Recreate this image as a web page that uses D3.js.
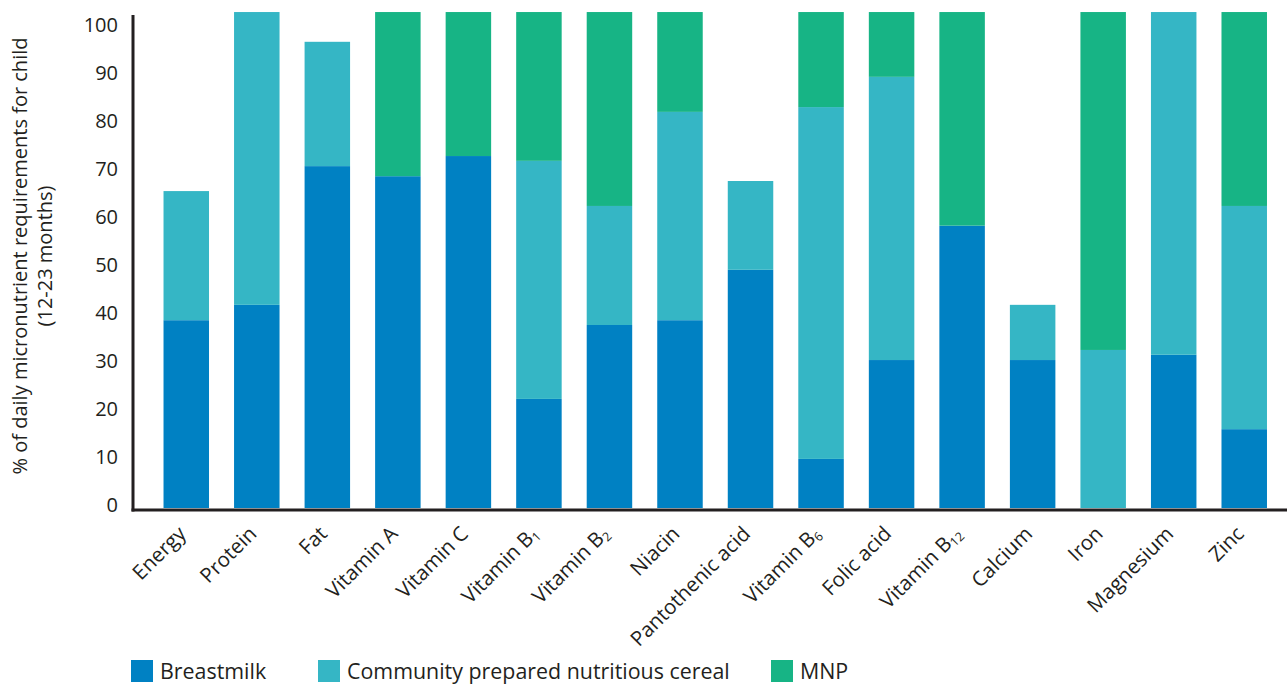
<!DOCTYPE html>
<html>
<head>
<meta charset="utf-8">
<script src="https://cdn.jsdelivr.net/npm/d3@7"></script>
<style>
  html, body { margin: 0; padding: 0; background: #fff; }
  svg { display: block; font-family: "Open Sans", sans-serif; }
</style>
</head>
<body>
<svg id="chart" width="1287" height="684"></svg>
<script>
// ---- data ----
const categories = ["Energy", "Protein", "Fat", "Vitamin A", "Vitamin C", "Vitamin B1", "Vitamin B2", "Niacin",
  "Pantothenic acid", "Vitamin B6", "Folic acid", "Vitamin B12", "Calcium", "Iron", "Magnesium", "Zinc"];
// label parts: [main text, subscript]
const labelMain = ["Energy", "Protein", "Fat", "Vitamin A", "Vitamin C", "Vitamin B", "Vitamin B", "Niacin",
  "Pantothenic acid", "Vitamin B", "Folic acid", "Vitamin B", "Calcium", "Iron", "Magnesium", "Zinc"];
const labelSub = ["", "", "", "", "", "1", "2", "", "", "6", "", "12", "", "", "", ""];
const breastmilk = [38.5, 41.7, 70.6, 68.5, 72.7, 22.1, 37.5, 38.5, 49.0, 9.6, 30.2, 58.2, 30.2, 0, 31.3, 15.8];
const cereal     = [26.9, 61.0, 25.9, 0, 0, 49.6, 24.8, 43.4, 18.5, 73.3, 59.0, 0, 11.5, 32.3, 71.4, 46.5];
const mnp        = [0, 0, 0, 34.2, 30.0, 31.0, 40.4, 20.8, 0, 19.8, 13.5, 44.5, 0, 70.4, 0, 40.4];
const seriesNames = ["Breastmilk", "Community prepared nutritious cereal", "MNP"];
const seriesKeys = ["breastmilk", "cereal", "mnp"];
const colors = ["#0081c3", "#35b6c5", "#17b485"];
const yTicks = [0, 10, 20, 30, 40, 50, 60, 70, 80, 90, 100];

// ---- build table ----
const rows = categories.map((c, i) => ({ cat: c, breastmilk: breastmilk[i], cereal: cereal[i], mnp: mnp[i] }));
const stacked = d3.stack().keys(seriesKeys)(rows);

const svg = d3.select("#chart");
const plotTop = 12, plotBottom = 508, axisX = 133, axisY = 510;

const x = d3.scaleBand().domain(categories).range([151.0, 1279.5]).paddingInner(0.355).paddingOuter(0.1775);
const y = d3.scaleLinear().domain([0, 100]).range([505, 25]);

svg.append("defs").append("clipPath").attr("id", "plotclip")
  .append("rect").attr("x", axisX).attr("y", plotTop).attr("width", 1287 - axisX).attr("height", plotBottom - plotTop);

const g = svg.append("g").attr("clip-path", "url(#plotclip)");
stacked.forEach((layer, si) => {
  g.append("g").attr("fill", colors[si])
    .selectAll("rect").data(layer).join("rect")
    .attr("x", d => x(d.data.cat))
    .attr("width", x.bandwidth())
    .attr("y", d => y(d[1]))
    .attr("height", d => {
      const bottom = d[0] === 0 ? plotBottom : y(d[0]);
      return Math.max(0, bottom - y(d[1]));
    })
    .attr("display", d => d[1] - d[0] > 0 ? null : "none");
});

// axes lines
svg.append("line").attr("x1", axisX).attr("x2", axisX).attr("y1", 15).attr("y2", axisY + 1.5)
  .attr("stroke", "#231f20").attr("stroke-width", 3);
svg.append("line").attr("x1", axisX - 1.5).attr("x2", 1287).attr("y1", axisY).attr("y2", axisY)
  .attr("stroke", "#231f20").attr("stroke-width", 3);

// y tick labels
svg.append("g").selectAll("text").data(yTicks).join("text")
  .attr("x", 118).attr("y", d => y(d) - 1)
  .attr("text-anchor", "end").attr("dominant-baseline", "central")
  .attr("font-size", 20).attr("fill", "#231f20")
  .text(d => d);

// y axis title
const yt = svg.append("text").attr("transform", "translate(0,256) rotate(-90)")
  .attr("text-anchor", "middle").attr("font-size", 20).attr("fill", "#231f20");
yt.append("tspan").attr("x", 0).attr("y", 27).text("% of daily micronutrient requirements for child");
yt.append("tspan").attr("x", 0).attr("y", 52).text("(12-23 months)");

// x labels
const xl = svg.append("g").selectAll("text").data(categories).join("text")
  .attr("transform", (d) => `translate(${x(d) + x.bandwidth() / 2 + 1},${535}) rotate(-45)`)
  .attr("text-anchor", "end").attr("font-size", 20.5).attr("fill", "#231f20");
xl.each(function(d, i) {
  const t = d3.select(this);
  t.append("tspan").text(labelMain[i]);
  if (labelSub[i]) t.append("tspan").attr("font-size", 12.5).attr("dy", 3).text(labelSub[i]);
});

// legend
const legX = [131, 318, 771];
const lg = svg.append("g").selectAll("g").data(seriesNames).join("g")
  .attr("transform", (d, i) => `translate(${legX[i]},660)`);
lg.append("rect").attr("width", 22).attr("height", 22).attr("fill", (d, i) => colors[i]);
lg.append("text").attr("x", 29).attr("y", 18.5).attr("font-size", 21.4).attr("fill", "#231f20").text(d => d);
</script>
</body>
</html>
